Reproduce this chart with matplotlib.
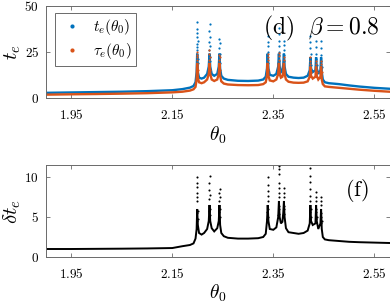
import matplotlib
matplotlib.use("Agg")
import matplotlib.pyplot as plt

plt.rcParams['mathtext.fontset'] = 'cm'
plt.rcParams['font.family'] = ['DejaVu Serif']

# ---------------- data ----------------
theta_line = [1.90, 1.95, 2.00, 2.05, 2.10, 2.15, 2.17, 2.185, 2.192, 2.196,
              2.1982, 2.1993, 2.2006, 2.203, 2.208, 2.213, 2.219, 2.2222, 2.2237, 2.2251,
              2.228, 2.233, 2.239, 2.2420, 2.2434, 2.2447, 2.247, 2.252, 2.26, 2.28,
              2.30, 2.32, 2.330, 2.335, 2.3375, 2.3389, 2.3403, 2.343, 2.350, 2.356,
              2.3597, 2.3611, 2.3625, 2.365, 2.368, 2.3697, 2.3710, 2.3723, 2.375, 2.380,
              2.39, 2.40, 2.41, 2.418, 2.4221, 2.4234, 2.4247, 2.428, 2.4334, 2.4347,
              2.4360, 2.439, 2.4433, 2.4446, 2.4459, 2.448, 2.452, 2.46, 2.48, 2.50,
              2.52, 2.55, 2.58]
te_line = [2.8, 3.0, 3.2, 3.4, 3.7, 4.2, 4.8, 5.6, 6.5, 8.5,
           14, 24, 14, 11, 10.5, 11, 13, 17, 24, 17,
           13, 12, 13, 17, 24, 16, 12, 10.5, 9.8, 9.3,
           9.2, 9.4, 10, 11.5, 16, 24, 16, 12.5, 12, 13,
           17, 24, 17, 14, 15, 18, 24, 17, 13, 11.5,
           11, 10.8, 11, 12, 15, 22, 16, 14, 15, 22,
           16, 13, 15, 22, 14, 10, 8.5, 8.0, 7.5, 6.8,
           6.2, 5.5, 5.0]
tau_line = [1.8, 2.0, 2.15, 2.35, 2.6, 3.05, 3.4, 4.0, 4.7, 6.0,
            10, 19, 11, 8.5, 8.0, 8.5, 10, 13, 19, 13,
            10, 9.2, 10, 13, 19, 12, 9, 7.8, 7.3, 7.0,
            6.9, 7.0, 7.5, 8.5, 12, 19, 12, 9.5, 9, 10,
            13, 19, 13, 11, 11.5, 14, 19, 13, 10, 8.8,
            8.3, 8.2, 8.3, 9, 11.5, 17, 12, 10.5, 11.5, 17,
            12, 10, 11.5, 17, 10, 7.5, 6.3, 6.0, 5.5, 5.0,
            4.5, 3.9, 3.4]
dte_line = [1.0, 1.0, 1.02, 1.04, 1.07, 1.12, 1.35, 1.5, 1.7, 2.3,
            3.5, 6.0, 4.0, 3.0, 2.8, 3.0, 3.5, 4.5, 6.5, 4.5,
            3.6, 3.2, 3.6, 4.5, 6.5, 4.0, 3.0, 2.6, 2.4, 2.3,
            2.3, 2.35, 2.5, 2.9, 4.5, 6.5, 4.5, 3.5, 3.4, 3.7,
            5.0, 7.0, 5.0, 4.2, 4.4, 5.5, 7.0, 5.0, 3.6, 3.1,
            3.0, 2.9, 3.0, 3.3, 4.2, 6.5, 4.5, 4.0, 4.2, 6.5,
            4.5, 3.5, 4.2, 6.0, 3.5, 2.5, 2.2, 2.1, 2.0, 1.9,
            1.85, 1.8, 1.75]

te_dot_theta = [2.1981, 2.2004, 2.1986, 2.2001, 2.1990, 2.1997, 2.1984, 2.2000, 2.1988, 2.1995, 2.1992, 2.1990,
                2.2226, 2.2248, 2.2230, 2.2245, 2.2233, 2.2241, 2.2229, 2.2239, 2.2235, 2.2238,
                2.2424, 2.2444, 2.2428, 2.2440, 2.2431, 2.2437, 2.2433,
                2.3379, 2.3399, 2.3383, 2.3395, 2.3386, 2.3392, 2.3389,
                2.3601, 2.3621, 2.3605, 2.3617, 2.3608, 2.3614, 2.3610, 2.3612,
                2.3701, 2.3719, 2.3705, 2.3715, 2.3709, 2.3711,
                2.4225, 2.4243, 2.4228, 2.4240, 2.4231, 2.4236, 2.4233,
                2.4338, 2.4356, 2.4342, 2.4352, 2.4345, 2.4348,
                2.4437, 2.4455, 2.4441, 2.4451, 2.4444, 2.4447]
te_dot_val = [18, 19, 22, 21, 26, 27.5, 29, 31, 33, 35, 37.5, 41,
              19, 20, 23, 22, 26, 28, 30, 33, 36, 40,
              18, 19, 22, 24, 27, 29.5, 32,
              18, 19, 22, 25, 28, 30.5, 33.5,
              19, 20, 23, 25, 28, 31, 34.5, 38,
              18, 20, 23, 26, 28.5, 31,
              17, 18, 21, 24, 27, 30, 33.5,
              17, 18, 21, 24, 27.5, 31,
              16, 17, 20, 23, 27, 31]

tau_dot_theta = [2.1983, 2.2003, 2.1988, 2.1995, 2.1991, 2.1993,
                 2.2227, 2.2246, 2.2232, 2.2239, 2.2236, 2.2234,
                 2.2425, 2.2443, 2.2430, 2.2436, 2.2434,
                 2.3380, 2.3398, 2.3385, 2.3391, 2.3389,
                 2.3602, 2.3620, 2.3607, 2.3613, 2.3611,
                 2.3702, 2.3718, 2.3708, 2.3712,
                 2.4226, 2.4242, 2.4232, 2.4236, 2.4234,
                 2.4339, 2.4355, 2.4345, 2.4349,
                 2.4438, 2.4454, 2.4444, 2.4447]
tau_dot_val = [14, 15, 20.5, 22, 23.5, 25,
               14, 15, 20.5, 22, 24, 26,
               14, 15, 20.5, 22, 23.5,
               14, 15, 20.5, 22, 24,
               14, 15, 20.5, 22.5, 24.5,
               14, 15, 20.5, 22,
               13, 14, 18.5, 20, 22,
               13, 14, 18.5, 20,
               13, 14, 18.5, 20]

dte_dot_theta = [2.1981, 2.2004, 2.1986, 2.2000, 2.1990, 2.1995, 2.1988, 2.1994, 2.1991, 2.1993,
                 2.2226, 2.2248, 2.2230, 2.2244, 2.2234, 2.2239, 2.2236, 2.2233, 2.2238,
                 2.2424, 2.2444, 2.2428, 2.2440, 2.2431, 2.2436, 2.2433, 2.2435,
                 2.3379, 2.3399, 2.3383, 2.3395, 2.3386, 2.3391, 2.3388, 2.3390, 2.3387,
                 2.3601, 2.3621, 2.3605, 2.3617, 2.3608, 2.3613, 2.3610, 2.3612, 2.3609, 2.3611, 2.3613,
                 2.3701, 2.3719, 2.3705, 2.3715, 2.3708, 2.3712, 2.3710,
                 2.4225, 2.4243, 2.4228, 2.4240, 2.4231, 2.4236, 2.4233, 2.4229, 2.4232, 2.4234,
                 2.4338, 2.4356, 2.4342, 2.4352, 2.4345, 2.4349, 2.4347,
                 2.4437, 2.4455, 2.4441, 2.4451, 2.4444, 2.4447, 2.4446]
dte_dot_val = [4.5, 4.8, 5.5, 5.8, 7.0, 7.5, 8.0, 8.7, 9.3, 10.0,
               5.0, 5.2, 5.8, 6.0, 7.2, 7.8, 8.4, 9.2, 10.1,
               4.8, 5.0, 5.6, 6.0, 7.0, 7.5, 8.0, 8.5,
               4.8, 5.0, 5.6, 6.0, 7.0, 7.6, 8.3, 9.0, 10.0,
               5.2, 5.4, 6.0, 6.4, 7.5, 8.0, 8.6, 9.3, 10.4, 11.0, 11.4,
               5.2, 5.4, 6.0, 6.4, 7.5, 8.0, 8.6,
               4.8, 5.0, 5.6, 6.0, 7.0, 7.6, 8.5, 9.4, 10.1, 11.1,
               4.8, 5.0, 5.6, 6.0, 7.0, 7.5, 8.1,
               4.2, 4.5, 5.0, 5.5, 6.5, 7.0, 7.5]

x_ticks = [1.95, 2.15, 2.35, 2.55]
x_ticklabels = ['$1.95$', '$2.15$', '$2.35$', '$2.55$']
top_yticks = [0, 25, 50]
top_yticklabels = ['$0$', '$25$', '$50$']
bot_yticks = [0, 5, 10]
bot_yticklabels = ['$0$', '$5$', '$10$']

BLUE = '#0072BD'
ORANGE = '#D95319'
SPINE = '#6a6a6a'

fig = plt.figure(figsize=(3.9, 3.03), dpi=100)
ax1 = fig.add_axes([46/390, 1 - 98/303, 343.5/390, 92.5/303])
ax2 = fig.add_axes([46/390, 1 - 257/303, 343.5/390, 92/303])

def style(ax):
    for s in ax.spines.values():
        s.set_color(SPINE)
        s.set_linewidth(0.7)
    ax.tick_params(direction='in', top=True, right=True, length=3, width=0.6,
                   color=SPINE, labelsize=9.5, pad=5)
    ax.tick_params(axis='x', pad=7)
    ax.set_xlim(1.90, 2.58)
    ax.set_xticks(x_ticks, labels=x_ticklabels)

# top panel
ax1.plot(theta_line, te_line, color=BLUE, lw=1.7, solid_joinstyle='miter')
ax1.plot(te_dot_theta, te_dot_val, 'o', color=BLUE, ms=1.6, mew=0)
ax1.plot(theta_line, tau_line, color=ORANGE, lw=1.7, solid_joinstyle='miter')
ax1.plot(tau_dot_theta, tau_dot_val, 'o', color=ORANGE, ms=1.6, mew=0)
h1, = ax1.plot([], [], 'o', color=BLUE, ms=3, mew=0)
h2, = ax1.plot([], [], 'o', color=ORANGE, ms=3, mew=0)
style(ax1)
ax1.set_ylim(0, 50)
ax1.set_yticks(top_yticks, labels=top_yticklabels)
leg = ax1.legend([h1, h2], [r'$t_e(\theta_0)$', r'$\tau_e(\theta_0)$'],
                 loc='upper left', bbox_to_anchor=(0.026, 0.92), borderaxespad=0,
                 fontsize=11, frameon=True, fancybox=False, framealpha=1,
                 handlelength=1.6, handletextpad=0.6, borderpad=0.3, labelspacing=0.25)
leg.get_frame().set_edgecolor(SPINE)
leg.get_frame().set_linewidth(0.7)
ax1.text(0.632, 0.757, r'$\mathrm{(d)}\ \ \beta=0.8$', transform=ax1.transAxes,
         fontsize=17, ha='left', va='center')
ax1.set_ylabel(r'$t_e$', fontsize=15)
ax1.yaxis.set_label_coords(-0.098, 0.5)
ax1.yaxis.label.set_verticalalignment('center')
ax1.set_xlabel(r'$\theta_0$', fontsize=14)
ax1.xaxis.set_label_coords(0.5, -0.40)
ax1.xaxis.label.set_verticalalignment('center')

# bottom panel
ax2.plot(theta_line, dte_line, color='black', lw=1.4, solid_joinstyle='miter')
ax2.plot(dte_dot_theta, dte_dot_val, 'o', color='black', ms=1.5, mew=0)
style(ax2)
ax2.set_ylim(0, 11.5)
ax2.set_yticks(bot_yticks, labels=bot_yticklabels)
ax2.text(0.870, 0.728, r'$\mathrm{(f)}$', transform=ax2.transAxes,
         fontsize=16, ha='left', va='center')
ax2.set_ylabel(r'$\delta t_e$', fontsize=15)
ax2.yaxis.set_label_coords(-0.098, 0.5)
ax2.yaxis.label.set_verticalalignment('center')
ax2.set_xlabel(r'$\theta_0$', fontsize=14)
ax2.xaxis.set_label_coords(0.5, -0.39)
ax2.xaxis.label.set_verticalalignment('center')

fig.savefig('out.png', dpi=100)
